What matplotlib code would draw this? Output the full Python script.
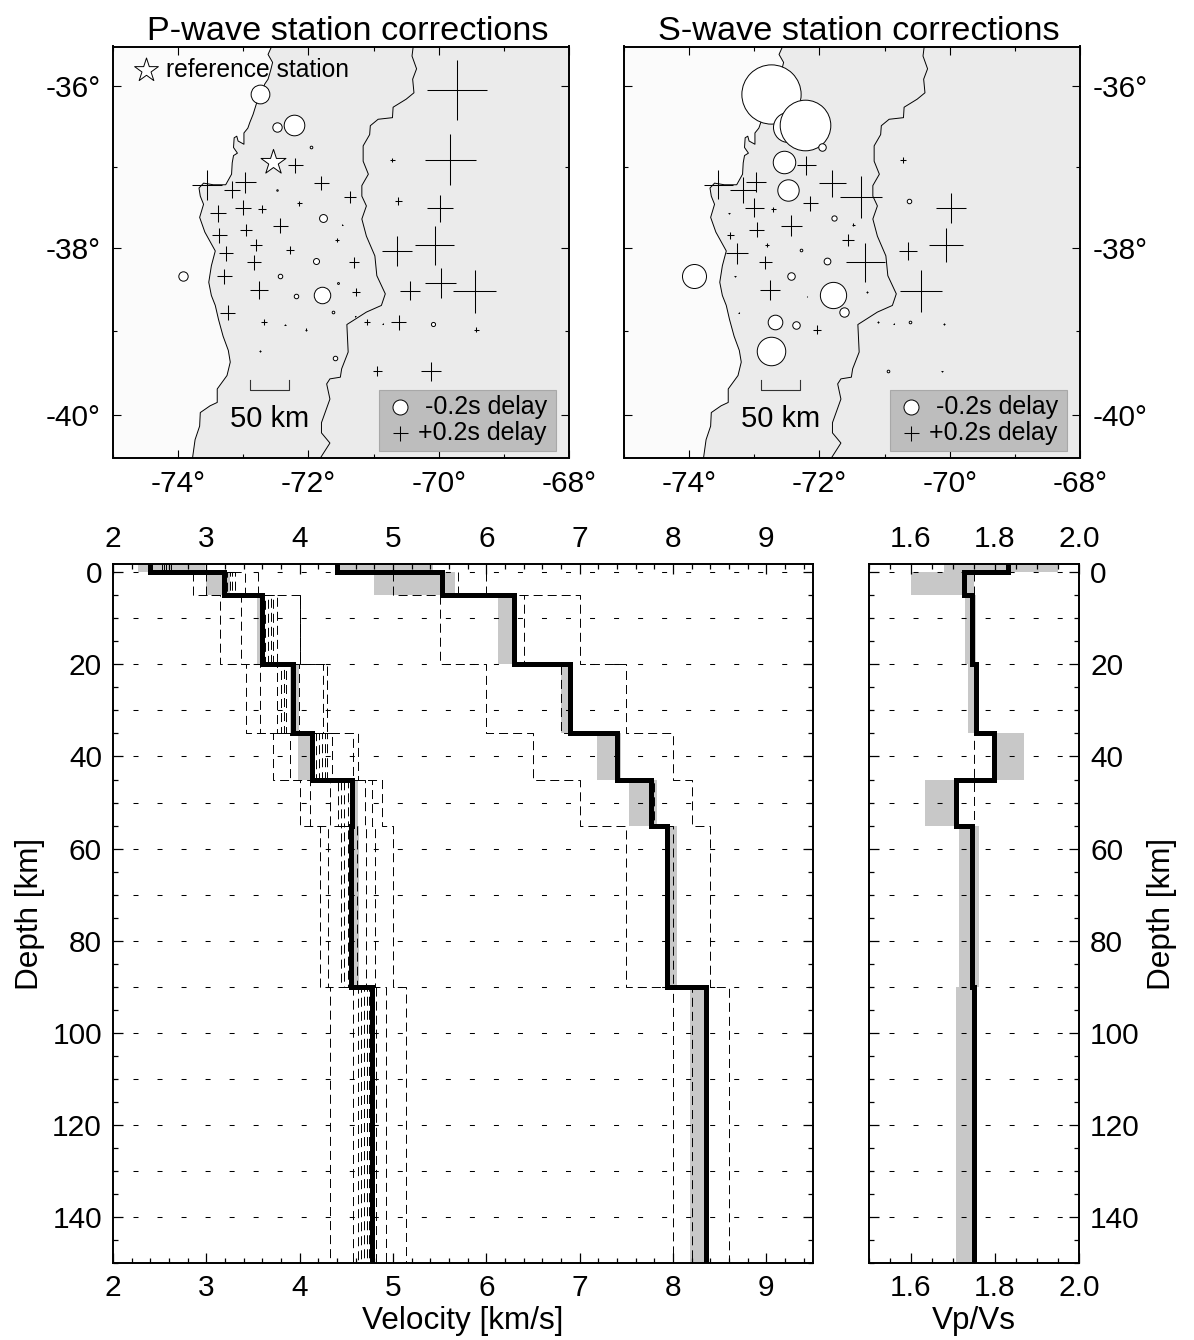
import numpy as np
import matplotlib
matplotlib.use('Agg')
import matplotlib.pyplot as plt
from matplotlib.patches import Rectangle

plt.rcParams['font.family'] = ['Liberation Sans', 'DejaVu Sans']
plt.rcParams['lines.scale_dashes'] = False
plt.rcParams['axes.linewidth'] = 1.4

# station positions and delays [s], nan where a station has no pick
stn_lon = [-69.72, -72.74, -72.49, -72.22, -71.96, -70.71, -69.82, -72.55, -72.20, -73.55, -72.97,
           -73.17, -71.80, -72.49, -71.36, -70.62, -72.14, -73.00, -72.71, -69.98, -73.39, -71.78,
           -71.48, -72.43, -72.96, -73.37, -71.56, -72.81, -70.06, -70.64, -72.28, -73.26, -71.89,
           -71.30, -72.83, -73.93, -73.29, -72.44, -71.55, -69.97, -72.76, -70.44, -69.45, -71.27,
           -71.79, -72.19, -71.63, -73.24, -71.28, -72.68, -71.10, -70.86, -70.61, -70.09, -72.36,
           -72.04, -69.42, -72.74, -71.59, -70.94, -70.12]
stn_lat = [-36.04, -36.09, -36.51, -36.48, -36.76, -36.91, -36.91, -36.94, -36.98, -37.22, -37.19,
           -37.28, -37.20, -37.28, -37.37, -37.42, -37.45, -37.50, -37.52, -37.51, -37.57, -37.63,
           -37.71, -37.72, -37.77, -37.84, -37.90, -37.96, -37.96, -38.03, -38.02, -38.06, -38.15,
           -38.17, -38.17, -38.34, -38.34, -38.34, -38.42, -38.42, -38.50, -38.51, -38.52, -38.53,
           -38.56, -38.58, -38.77, -38.78, -38.82, -38.89, -38.89, -38.91, -38.89, -38.91, -38.92,
           -38.98, -38.98, -39.24, -39.32, -39.48, -39.48]
p_delay = [0.80, -0.25, -0.125, -0.275, -0.035, 0.055, 0.67, 0.0, 0.195, 0.40, 0.275,
           0.22, 0.19, -0.02, 0.16, 0.10, 0.06, 0.21, 0.10, 0.35, 0.22, -0.105,
           0.02, 0.21, 0.16, 0.20, 0.055, 0.16, 0.52, 0.40, 0.10, 0.19, -0.08,
           0.14, 0.19, -0.125, 0.21, -0.06, -0.025, 0.41, 0.24, 0.26, 0.57, 0.11,
           -0.22, -0.06, -0.035, 0.20, 0.01, 0.08, 0.08, 0.02, 0.20, -0.055, 0.02,
           0.035, 0.06, 0.02, -0.06, 0.13, 0.26]
s_delay = [np.nan, -0.79, -0.40, -0.675, -0.10, 0.08, np.nan, -0.30, 0.26, 0.39, 0.27,
           0.35, 0.36, -0.285, 0.56, -0.06, 0.20, 0.26, 0.07, 0.40, 0.02, -0.07,
           0.045, 0.29, 0.20, 0.09, 0.16, 0.05, 0.45, 0.25, -0.035, 0.29, -0.09,
           0.52, 0.17, -0.32, 0.025, -0.10, np.nan, np.nan, 0.27, 0.56, np.nan, 0.02,
           -0.35, 0.01, -0.125, 0.015, np.nan, -0.195, 0.025, 0.01, -0.035, 0.03, -0.10,
           0.11, np.nan, -0.38, np.nan, -0.035, 0.02]
ref_lon = -72.55
ref_lat = -36.94

coast_lon = [-72.56, -72.62, -72.55, -72.58, -72.62, -72.67, -72.74, -72.80, -72.85, -72.90, -72.93,
             -72.99, -72.99, -73.08, -73.10, -73.14, -73.15, -73.09, -73.15, -73.17, -73.18, -73.27,
             -73.46, -73.61, -73.68, -73.66, -73.61, -73.67, -73.59, -73.43, -73.49, -73.53, -73.49,
             -73.43, -73.38, -73.31, -73.23, -73.20, -73.25, -73.40, -73.40, -73.51, -73.66, -73.67,
             -73.74, -73.78]
coast_lat = [-35.49, -35.60, -35.70, -35.80, -35.91, -35.97, -36.12, -36.22, -36.35, -36.45, -36.52,
             -36.58, -36.72, -36.68, -36.62, -36.64, -36.76, -36.83, -36.86, -36.95, -37.09, -37.22,
             -37.22, -37.20, -37.26, -37.36, -37.46, -37.62, -37.80, -38.03, -38.21, -38.41, -38.57,
             -38.69, -38.86, -39.06, -39.23, -39.37, -39.53, -39.69, -39.85, -39.89, -39.97, -40.13,
             -40.29, -40.51]
border_lon = [-70.39, -70.41, -70.34, -70.40, -70.38, -70.50, -70.70, -70.71, -70.93, -71.05, -71.06,
              -71.16, -71.16, -71.08, -71.18, -71.18, -71.11, -71.18, -71.11, -70.98, -70.95, -70.82,
              -70.88, -71.11, -71.41, -71.39, -71.49, -71.51, -71.67, -71.72, -71.67, -71.80, -71.80,
              -71.67, -71.82]
border_lat = [-35.49, -35.62, -35.78, -35.91, -36.08, -36.16, -36.26, -36.39, -36.41, -36.49, -36.60,
              -36.74, -36.93, -37.09, -37.23, -37.36, -37.48, -37.64, -37.85, -38.09, -38.33, -38.55,
              -38.69, -38.77, -38.92, -39.25, -39.45, -39.55, -39.57, -39.63, -39.81, -40.09, -40.21,
              -40.33, -40.51]

# velocity model layers [km]
layer_top = [-2, 0, 5, 20, 35, 45, 55, 90]
layer_bot = [0, 5, 20, 35, 45, 55, 90, 150]

vp_final = [4.40, 5.52, 6.30, 6.90, 7.40, 7.76, 7.94, 8.35]
vs_final = [2.40, 3.19, 3.60, 3.93, 4.13, 4.56, 4.55, 4.77]
vpvs_final = [1.83, 1.727, 1.746, 1.754, 1.798, 1.707, 1.745, 1.75]

vp_lo = [4.42, 4.80, 6.12, 6.80, 7.19, 7.53, 7.91, 8.18]
vp_hi = [5.43, 5.66, 6.33, 6.90, 7.44, 7.83, 8.04, 8.37]
vs_lo = [2.27, 3.00, 3.54, 3.90, 3.98, 4.56, 4.55, 4.76]
vs_hi = [2.99, 3.25, 3.63, 3.99, 4.15, 4.63, 4.64, 4.81]
vpvs_lo = [1.679, 1.60, 1.729, 1.736, 1.80, 1.633, 1.714, 1.707]
vpvs_hi = [1.95, 1.75, 1.755, 1.757, 1.87, 1.707, 1.762, 1.75]

# starting models, drawn as thin dashed steps
vp_start = [[np.nan, 5.0, 5.5, 6.0, 6.5, 7.0, 7.5, 8.0],
            [np.nan, 5.7, 6.4, 6.8, 7.4, 7.8, 8.0, 8.2],
            [np.nan, 6.0, 7.0, 7.5, 8.0, 8.2, 8.4, 8.6]]
vs_start = [[np.nan, 2.86, 3.15, 3.43, 3.71, 4.00, 4.22, 4.32],
            [np.nan, 3.00, 3.37, 3.58, 3.90, 4.11, 4.30, 4.57],
            [2.52, 3.22, 3.63, 3.76, 4.18, 4.33, 4.44, 4.63],
            [2.55, 3.25, 3.66, 3.80, 4.21, 4.41, 4.48, 4.66],
            [2.57, 3.28, 3.69, 3.83, 4.24, 4.44, 4.52, 4.69],
            [2.60, 3.31, 3.71, 3.85, 4.27, 4.47, 4.55, 4.72],
            [2.62, 3.41, 3.76, 3.99, 4.29, 4.52, 4.61, 4.74],
            [np.nan, 3.55, 4.00, 4.25, 4.35, 4.70, 4.71, 4.82],
            [np.nan, np.nan, 4.00, 4.29, 4.57, 4.78, 4.81, 4.92],
            [np.nan, np.nan, 4.00, 4.29, 4.63, 4.88, 5.00, 5.14]]
vpvs_start = [[np.nan, 1.75, 1.75, 1.75, 1.75, 1.75, 1.75, 1.75]]

W = 1194
H = 1340
PX = 72.0 / 100  # points in one pixel at dpi 100
DELAY_PX = 75.0  # symbol size in pixels for 1 s of delay


def make_axes(x0, y0, x1, y1):
    return fig.add_axes([x0 / W, 1 - y1 / H, (x1 - x0) / W, (y1 - y0) / H])


def merc(lat):
    return np.log(np.tan(np.pi / 4 + np.radians(lat) / 2))


def merc_inv(y):
    return np.degrees(2 * np.arctan(np.exp(y)) - np.pi / 2)


def draw_delays(ax, lon, lat, delay):
    lon = np.array(lon)
    lat = np.array(lat)
    delay = np.array(delay, dtype=float)
    keep = ~np.isnan(delay)
    lon, lat, delay = lon[keep], lat[keep], delay[keep]
    size = (np.abs(delay) * DELAY_PX * PX) ** 2
    ax.scatter(lon[delay > 0], lat[delay > 0], s=size[delay > 0], marker='+', c='k',
               linewidths=0.75, zorder=4)
    for i in np.where(delay < 0)[0]:
        ax.scatter(lon[i], lat[i], s=size[i], marker='o', facecolors='white',
                   edgecolors='k', linewidths=0.7, zorder=4)


def draw_map(ax, title, delay):
    ax.set_xlim(-75, -68)
    ax.set_yscale('function', functions=(merc, merc_inv))
    ax.set_ylim(-40.5, -35.5)
    ax.set_facecolor('#fbfbfb')
    ax.fill(coast_lon + [-68, -68], coast_lat + [-40.51, -35.49], color='#ebebeb', lw=0, zorder=1)
    ax.plot(coast_lon, coast_lat, color='k', lw=0.7, zorder=2)
    ax.plot(border_lon, border_lat, color='k', lw=0.7, zorder=2)
    draw_delays(ax, stn_lon, stn_lat, delay)

    # scale bar
    ax.plot([-72.89, -72.89, -72.30, -72.30], [-39.58, -39.70, -39.70, -39.58], color='#333333', lw=0.8)
    ax.text(-72.60, -40.05, '50 km', fontsize=21, ha='center', va='center')

    # legend box
    ax.add_patch(Rectangle((-70.91, -40.42), 2.71, 0.72, facecolor='#bdbdbd', edgecolor='#a8a8a8',
                           lw=0.8, zorder=5))
    ax.text(-68.34, -39.91, '-0.2s delay', fontsize=18, ha='right', va='center', zorder=6)
    ax.text(-68.34, -40.21, '+0.2s delay', fontsize=18, ha='right', va='center', zorder=6)
    ax.scatter([-70.60], [-39.91], s=(0.2 * DELAY_PX * PX) ** 2, marker='o', facecolors='white',
               edgecolors='k', linewidths=0.7, zorder=6)
    ax.scatter([-70.60], [-40.21], s=(0.2 * DELAY_PX * PX) ** 2, marker='+', c='k',
               linewidths=0.75, zorder=6)

    ax.set_xticks([-74, -72, -70, -68])
    ax.set_xticklabels(['-74°', '-72°', '-70°', '-68°'])
    ax.set_xticks([-75, -73, -71, -69], minor=True)
    ax.set_yticks([-36, -38, -40])
    ax.set_yticklabels(['-36°', '-38°', '-40°'])
    ax.set_yticks([-37, -39], minor=True)
    ax.tick_params(which='major', direction='in', length=5.5, width=0.8, top=True, right=True,
                   labelsize=21.5, pad=9)
    ax.tick_params(which='minor', direction='in', length=3, width=0.8, top=True, right=True)
    ax.set_title(title, fontsize=24.7, x=0.515, pad=5)


def draw_steps(ax, vals, **kw):
    x = np.repeat(vals, 2)
    y = np.ravel(np.column_stack([layer_top, layer_bot]))
    ax.plot(x, y, **kw)


def draw_profile(ax, bands, starts, finals):
    ax.set_ylim(150, -1.8)
    for lo, hi in bands:
        ax.barh(layer_top, np.subtract(hi, lo), height=np.subtract(layer_bot, layer_top), left=lo,
                align='edge', color='#c8c8c8', lw=0, zorder=1)
    ax.hlines(np.arange(0, 150, 10), ax.get_xlim()[0], ax.get_xlim()[1], color='k', lw=0.75,
              linestyle=(2.9, (3.6, 13.7)), zorder=2)
    for s in starts:
        draw_steps(ax, s, color='k', lw=0.7, linestyle=(0, (6.5, 3.6)), zorder=2)
    for f in finals:
        draw_steps(ax, f, color='k', lw=3.6, solid_joinstyle='miter', solid_capstyle='butt', zorder=3)
    ax.set_yticks(np.arange(0, 150, 20))
    ax.set_yticks(np.arange(0, 151, 5), minor=True)
    ax.tick_params(which='major', direction='in', length=7.2, width=0.9, top=True, right=True,
                   labeltop=True, labelsize=21.5, pad=8)
    ax.tick_params(which='minor', direction='in', length=3.6, width=0.9, top=True, right=True)


fig = plt.figure(figsize=(W / 100, H / 100), dpi=100)

ax1 = make_axes(113, 46.5, 569, 457.5)
draw_map(ax1, 'P-wave station corrections', p_delay)
ax1.scatter([ref_lon], [ref_lat], s=(21 * PX * 1.25) ** 2, marker='*', facecolors='white',
            edgecolors='k', linewidths=0.7, zorder=4)
ax1.scatter([-74.49], [-35.79], s=(20 * PX * 1.25) ** 2, marker='*', facecolors='white',
            edgecolors='k', linewidths=0.7, zorder=4)
ax1.text(-74.19, -35.80, 'reference station', fontsize=17.7, ha='left', va='center', zorder=6)

ax2 = make_axes(624, 46.5, 1080, 457.5)
draw_map(ax2, 'S-wave station corrections', s_delay)
ax2.tick_params(axis='y', which='both', labelleft=False, labelright=True)

ax3 = make_axes(113, 564, 813, 1263)
ax3.set_xlim(2, 9.5)
draw_profile(ax3, [(vs_lo, vs_hi), (vp_lo, vp_hi)], vs_start + vp_start, [vs_final, vp_final])
ax3.set_xticks(range(2, 10))
ax3.set_xticks(np.arange(2, 9.51, 0.2), minor=True)
ax3.set_xlabel('Velocity [km/s]', fontsize=22.7, labelpad=3)
ax3.set_ylabel('Depth [km]', fontsize=22.7, labelpad=5)

ax4 = make_axes(869, 564, 1079, 1263)
ax4.set_xlim(1.5, 2.0)
draw_profile(ax4, [(vpvs_lo, vpvs_hi)], vpvs_start, [vpvs_final])
ax4.set_xticks([1.6, 1.8, 2.0])
ax4.set_xticklabels(['1.6', '1.8', '2.0'])
ax4.set_xticks(np.arange(1.5, 2.01, 0.05), minor=True)
ax4.tick_params(axis='y', which='both', labelleft=False, labelright=True)
ax4.yaxis.set_label_position('right')
ax4.set_ylabel('Depth [km]', fontsize=22.7, labelpad=5)
ax4.set_xlabel('Vp/Vs', fontsize=22.7, labelpad=3)

fig.savefig('out.png', dpi=100)
